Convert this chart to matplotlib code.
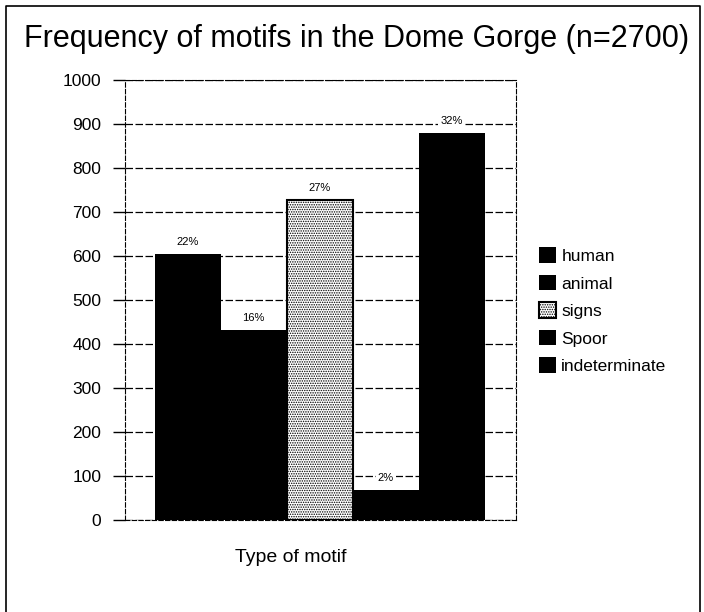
import matplotlib
matplotlib.use('Agg')
from matplotlib import pyplot as plt
import numpy as np

plt.rcParams['font.family'] = ['Liberation Sans', 'DejaVu Sans']
plt.rcParams['hatch.linewidth'] = 0.7

categories = ['human', 'animal', 'signs', 'Spoor', 'indeterminate']
counts = [606, 432, 727, 68, 880]
pct_labels = ['22%', '16%', '27%', '2%', '32%']
yticks = [0, 100, 200, 300, 400, 500, 600, 700, 800, 900, 1000]

fig = plt.figure(figsize=(7.04, 6.12), dpi=100)
ax = fig.add_axes([0.1776, 0.150, 0.555, 0.719])

x = np.arange(len(categories))
for i, (name, val) in enumerate(zip(categories, counts)):
    if name == 'signs':
        ax.bar(x[i], val, width=1.0, color='white', edgecolor='black',
               hatch='.......', linewidth=1.5, label=name, zorder=3)
    else:
        ax.bar(x[i], val, width=1.0, color='black', edgecolor='black',
               linewidth=0, label=name, zorder=3)
    ax.annotate(pct_labels[i], (x[i], val), xytext=(0, 5), textcoords='offset points',
                ha='center', va='bottom', fontsize=8, zorder=4,
                bbox=dict(facecolor='white', edgecolor='none', pad=1.5))

ax.set_xlim(-0.95, 4.97)
ax.set_ylim(0, 1000)
ax.set_yticks(yticks)
ax.set_yticklabels([str(t) for t in yticks], fontsize=12.5)
ax.set_xticks([])
ax.tick_params(axis='y', direction='out', length=9, width=1, pad=8)
ax.yaxis.grid(True, color='black', linestyle=(0, (6, 2)), linewidth=0.9, zorder=0)
ax.set_axisbelow(True)
for s in ['top', 'right', 'bottom', 'left']:
    ax.spines[s].set_linestyle((0, (4, 2)))
    ax.spines[s].set_linewidth(0.8)

ax.set_xlabel('Type of motif', fontsize=14, labelpad=22)
ax.xaxis.set_label_coords(0.424, -0.065)

fig.text(0.507, 0.937, 'Frequency of motifs in the Dome Gorge (n=2700)',
         ha='center', va='center', fontsize=22)

fig.legend(loc='upper left', bbox_to_anchor=(0.753, 0.61), frameon=False,
           fontsize=12.5, handlelength=1.0, handleheight=1.0,
           handletextpad=0.3, labelspacing=0.62, borderpad=0)

# outer chart border (left, top, right)
fig.add_artist(plt.Line2D([0.008, 0.008, 0.994, 0.994], [0.0, 0.991, 0.991, 0.0],
                          transform=fig.transFigure, color='black', linewidth=1.2))

fig.savefig('out.png', dpi=100)
